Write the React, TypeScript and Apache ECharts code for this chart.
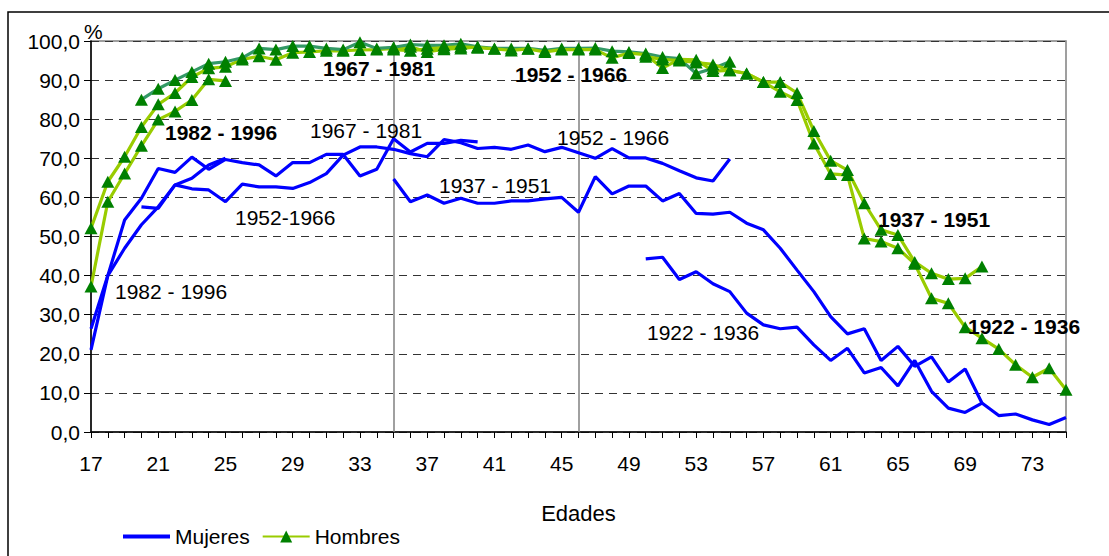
import React, { useEffect, useRef } from "react";
import * as echarts from "echarts";

// Ages (category axis)
const FIRST_AGE = 17;
const LAST_AGE = 75;
const ages: string[] = [];
for (let a = FIRST_AGE; a <= LAST_AGE; a++) ages.push(String(a));

const yTicks = [0, 10, 20, 30, 40, 50, 60, 70, 80, 90, 100];

// Mujeres, by birth cohort: [start age, values...]
const mujeres1982Start = 17;
const mujeres1982 = [21.0, 40.0, 47.0, 53.0, 57.6, 63.2, 64.9, 68.3, 70.0];
const mujeres1967Start = 17;
const mujeres1967 = [26.4, 40.0, 54.2, 59.8, 67.4, 66.4, 70.3, 67.2, 69.7, 68.9, 68.3, 65.5, 68.9, 68.9, 71.0, 71.0, 65.5, 67.2, 75.0, 71.6, 73.8, 73.8, 74.6, 74.2];
const mujeres1952Start = 20;
const mujeres1952 = [57.6, 57.2, 63.2, 62.2, 61.9, 58.9, 63.4, 62.7, 62.7, 62.3, 63.8, 66.1, 70.8, 72.9, 72.9, 72.3, 71.2, 70.4, 74.8, 74.0, 72.5, 72.8, 72.3, 73.4, 71.7, 72.8, 71.4, 70.0, 72.5, 70.1, 70.1, 68.7, 66.8, 65.0, 64.2, 69.8];
const mujeres1937Start = 35;
const mujeres1937 = [64.7, 58.9, 60.6, 58.5, 59.8, 58.5, 58.5, 59.1, 59.1, 59.6, 60.0, 56.2, 65.3, 60.9, 62.9, 62.9, 59.1, 61.0, 55.9, 55.7, 56.2, 53.4, 51.7, 47.0, 41.4, 35.9, 29.5, 25.1, 26.4, 18.3, 21.9, 16.8, 19.2, 12.8, 16.1, 7.4];
const mujeres1922Start = 50;
const mujeres1922 = [44.3, 44.7, 39.0, 41.0, 37.9, 35.9, 30.4, 27.4, 26.4, 26.8, 22.3, 18.3, 21.4, 15.1, 16.5, 11.8, 18.3, 10.4, 6.1, 5.0, 7.4, 4.2, 4.6, 3.1, 1.9, 3.7];

// Hombres, by birth cohort
const hombres1982Start = 17;
const hombres1982 = [37.2, 58.9, 66.1, 73.2, 79.9, 82.0, 84.9, 90.2, 89.8];
const hombres1967Start = 17;
const hombres1967 = [52.1, 64.0, 70.4, 78.0, 83.8, 86.7, 90.8, 93.0, 93.4, 95.3, 96.1, 95.2, 97.0, 97.2, 97.5, 97.5, 97.7, 97.8, 98.1, 98.5, 97.2, 97.9, 98.1, 98.5];
const hombres1952Start = 20;
const hombres1952 = [85.0, 87.8, 90.0, 92.1, 94.2, 94.7, 95.7, 98.1, 97.8, 98.7, 98.7, 98.1, 97.8, 99.7, 98.1, 98.4, 99.1, 98.9, 98.9, 99.3, 98.5, 98.1, 98.1, 98.1, 97.6, 98.1, 98.1, 98.2, 97.4, 97.2, 96.8, 95.9, 95.5, 91.7, 93.0, 94.7];
const hombres1937Start = 35;
const hombres1937 = [97.8, 97.5, 98.0, 98.3, 98.5, 98.3, 98.0, 97.6, 98.0, 97.2, 97.8, 97.8, 97.8, 95.7, 96.9, 96.5, 93.1, 95.3, 95.2, 92.3, 92.5, 91.7, 89.5, 89.5, 86.7, 77.0, 69.4, 67.0, 58.5, 51.7, 50.4, 43.5, 40.6, 39.1, 39.3, 42.3];
const hombres1922Start = 50;
const hombres1922 = [96.0, 95.3, 95.0, 94.5, 94.0, 92.5, 91.7, 89.5, 87.0, 84.9, 73.8, 66.0, 65.7, 49.5, 48.7, 47.0, 43.0, 34.2, 32.9, 26.8, 24.0, 21.2, 17.2, 14.0, 16.3, 10.8];

const verticalMarks = ["35", "46"];

const FONT = '"Liberation Sans", Arial, sans-serif';
const BLUE = "#0000FF";
const YGREEN = "#99CC00";
const TEAL = "#339966";
const MARKER = "#008000";

function place(start: number, vals: number[]): (number | null)[] {
  const out: (number | null)[] = ages.map(() => null);
  vals.forEach((v, i) => {
    out[start - FIRST_AGE + i] = v;
  });
  return out;
}

function womenSeries(start: number, vals: number[], extra: any = {}) {
  return {
    type: "line",
    name: "Mujeres",
    data: place(start, vals),
    symbol: "none",
    showSymbol: false,
    lineStyle: { color: BLUE, width: 3.2 },
    itemStyle: { color: BLUE },
    z: 3,
    ...extra,
  };
}

function menSeries(start: number, vals: number[], lineColor: string) {
  return {
    type: "line",
    name: "Hombres",
    data: place(start, vals),
    symbol: "triangle",
    symbolSize: [13, 12],
    showSymbol: true,
    showAllSymbol: true,
    lineStyle: { color: lineColor, width: 3.2 },
    itemStyle: { color: MARKER },
    z: 4,
  };
}

const boldLabels = [
  { text: "1982 - 1996", x: 165, y: 132 },
  { text: "1967 - 1981", x: 323, y: 68 },
  { text: "1952 - 1966", x: 515, y: 74 },
  { text: "1937 - 1951", x: 878, y: 219 },
  { text: "1922 - 1936", x: 968, y: 326 },
];
const normalLabels = [
  { text: "1967 - 1981", x: 310, y: 130 },
  { text: "1952-1966", x: 235, y: 217 },
  { text: "1982 - 1996", x: 115, y: 291 },
  { text: "1952 - 1966", x: 557, y: 137 },
  { text: "1937 - 1951", x: 439, y: 185 },
  { text: "1922 - 1936", x: 647, y: 332 },
];

export default function App() {
  const ref = useRef<HTMLDivElement>(null);
  useEffect(() => {
    if (!ref.current) return;
    const chart = echarts.init(ref.current, undefined, { renderer: "svg" });
    const series: any[] = [
      womenSeries(mujeres1982Start, mujeres1982, {
        markLine: {
          symbol: "none",
          silent: true,
          label: { show: false },
          lineStyle: { color: "#808080", type: "solid", width: 1.5 },
          data: verticalMarks.map((v) => ({ xAxis: v })),
          z: 1,
        },
      }),
      womenSeries(mujeres1967Start, mujeres1967),
      womenSeries(mujeres1952Start, mujeres1952),
      womenSeries(mujeres1937Start, mujeres1937),
      womenSeries(mujeres1922Start, mujeres1922),
      menSeries(hombres1982Start, hombres1982, YGREEN),
      menSeries(hombres1967Start, hombres1967, YGREEN),
      menSeries(hombres1952Start, hombres1952, TEAL),
      menSeries(hombres1937Start, hombres1937, YGREEN),
      menSeries(hombres1922Start, hombres1922, YGREEN),
    ];
    const graphics: any[] = [
      {
        type: "rect",
        shape: { x: 8, y: 12, width: 1200, height: 700 },
        style: { fill: "none", stroke: "#000", lineWidth: 1.5 },
        silent: true,
        z: -10,
      },
      {
        type: "text",
        x: 84,
        y: 31,
        style: { text: "%", font: `21px ${FONT}`, fill: "#000", verticalAlign: "middle" },
      },
      ...boldLabels.map((l) => ({
        type: "text",
        x: l.x,
        y: l.y,
        z: 10,
        style: { text: l.text, font: `bold 21px ${FONT}`, fill: "#000", verticalAlign: "middle" },
      })),
      ...normalLabels.map((l) => ({
        type: "text",
        x: l.x,
        y: l.y,
        z: 10,
        style: { text: l.text, font: `21px ${FONT}`, fill: "#000", verticalAlign: "middle" },
      })),
    ];
    chart.setOption({
      animation: false,
      backgroundColor: "#fff",
      textStyle: { fontFamily: FONT },
      grid: {
        left: 91,
        right: 43,
        top: 41,
        bottom: 124,
        show: true,
        borderColor: "#808080",
        borderWidth: 1.5,
        containLabel: false,
      },
      legend: {
        data: [
          { name: "Mujeres", icon: "path://M0 0H47V4H0Z" },
          { name: "Hombres" },
        ],
        left: 123,
        top: 526,
        padding: 0,
        itemWidth: 47,
        itemHeight: 15,
        itemGap: 12,
        textStyle: { fontSize: 21, color: "#000", fontFamily: FONT },
      },
      xAxis: {
        type: "category",
        data: ages,
        boundaryGap: false,
        name: "Edades",
        nameLocation: "middle",
        nameGap: 70,
        nameTextStyle: { fontSize: 22, color: "#000", fontFamily: FONT },
        axisLine: { lineStyle: { color: "#000", width: 1.5 } },
        axisTick: { show: true, interval: 0, length: 6, lineStyle: { color: "#000", width: 1 } },
        axisLabel: {
          interval: (index: number) => index % 4 === 0,
          margin: 21,
          fontSize: 21,
          color: "#000",
          fontFamily: FONT,
        },
        splitLine: { show: false },
      },
      yAxis: {
        type: "value",
        min: yTicks[0],
        max: yTicks[yTicks.length - 1],
        interval: 10,
        axisLine: { show: true, lineStyle: { color: "#000", width: 1.5 } },
        axisTick: { show: true, length: 7, lineStyle: { color: "#000" } },
        axisLabel: {
          margin: 11,
          fontSize: 21,
          color: "#000",
          fontFamily: FONT,
          formatter: (v: number) => v.toFixed(1).replace(".", ","),
        },
        splitLine: { show: true, lineStyle: { color: "#333", type: [8, 6], width: 1 } },
      },
      series,
      graphic: graphics,
    });
    return () => chart.dispose();
  }, []);
  return (
    <div
      ref={ref}
      style={{ position: "fixed", left: 0, top: 0, width: 1109, height: 556, background: "#fff" }}
    />
  );
}
